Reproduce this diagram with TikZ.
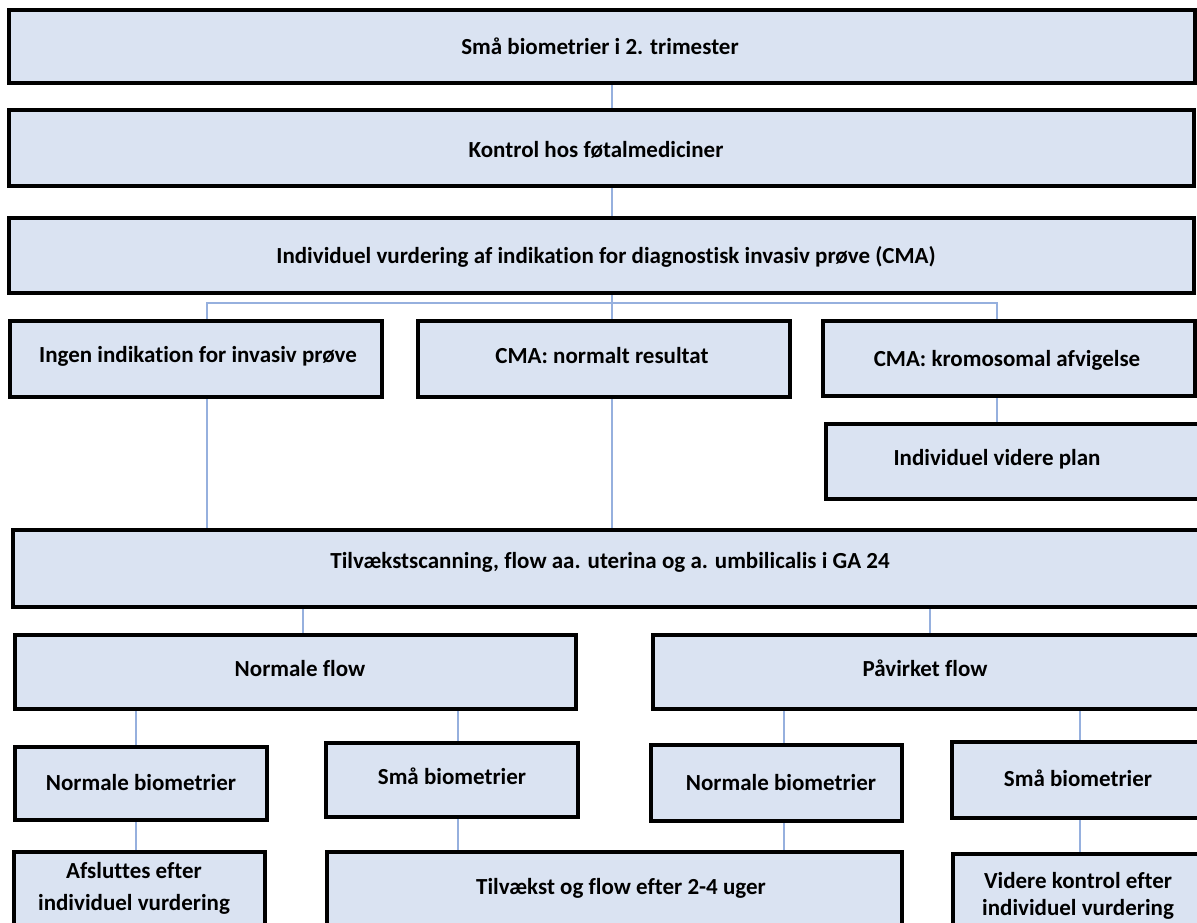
\documentclass[tikz,border=0pt]{standalone}
\usepackage{fontspec}
\setmainfont{Carlito}[Ligatures=NoCommon]
\usetikzlibrary{backgrounds,shadows}
\definecolor{boxfill}{RGB}{218,227,242}
\definecolor{connc}{RGB}{150,176,222}
\tikzset{
  box/.style={draw=black, line width=3.1pt, fill=boxfill, inner sep=0pt,
    drop shadow={shadow xshift=1.2pt, shadow yshift=-1.2pt, opacity=0.35}},
  txt/.style={font=\fontsize{23}{32}\selectfont\bfseries, inner sep=0pt, anchor=base},
  conn/.style={draw=connc, line width=1.3pt}
}
\setlength{\tabcolsep}{0pt}
\newcommand{\bx}[5]{\node[box, minimum width={#4pt-#2pt}, minimum height={#5pt-#3pt}] (#1) at ({(#2+#4)/2},{(#3+#5)/2}) {};}
\begin{document}
\begin{tikzpicture}[x=1pt,y=-1pt]
\useasboundingbox (0,0) rectangle (1197,922);
\clip (0,0) rectangle (1197,922);
\bx{b1}{9}{10}{1195}{83}
\bx{b2}{9}{110}{1194}{186}
\bx{b3}{9}{218}{1194}{293}
\bx{b4}{10}{321}{382}{397}
\bx{b5}{418}{321}{790}{397}
\bx{b6}{823}{321}{1195}{396}
\bx{b7}{826}{424}{1204}{499}
\bx{b8}{13}{530}{1204}{607}
\bx{b9}{15}{635}{576}{709}
\bx{b10}{653}{635}{1204}{709}
\bx{b11}{15}{747}{267}{820}
\bx{b12}{326}{743}{578}{817}
\bx{b13}{651}{745}{902}{821}
\bx{b14}{952}{742}{1204}{818}
\bx{b15}{14}{852}{265}{950}
\bx{b16}{327}{852}{902}{950}
\bx{b17}{953}{854}{1204}{950}

\node[txt] (t1) at (600,54) {Små biometrier i 2. trimester};
\node[txt] (t2) at (596,157) {Kontrol hos føtalmediciner};
\node[txt] (t3) at (606,263) {Individuel vurdering af indikation for diagnostisk invasiv prøve (CMA)};
\node[txt] (t4) at (198,362) {Ingen indikation for invasiv prøve};
\node[txt] (t5) at (602,363) {CMA: normalt resultat};
\node[txt] (t6) at (1007,366) {CMA: kromosomal afvigelse};
\node[txt] (t7) at (997,465) {Individuel videre plan};
\node[txt] (t8) at (610,568) {Tilvækstscanning, flow aa. uterina og a. umbilicalis i GA 24};
\node[txt] (t9) at (300,676) {Normale flow};
\node[txt] (t10) at (925,676) {Påvirket flow};
\node[txt] (t11) at (141,790) {Normale biometrier};
\node[txt] (t12) at (452,784) {Små biometrier};
\node[txt] (t13) at (781,790) {Normale biometrier};
\node[txt] (t14) at (1078,786) {Små biometrier};
\node[txt] (t15) at (134,878) {\begin{tabular}[t]{c}Afsluttes efter\\individuel vurdering\end{tabular}};
\node[txt] (t16) at (621,894) {Tilvækst og flow efter 2-4 uger};
\node[txt, font=\fontsize{23}{27}\selectfont\bfseries] (t17) at (1078,888) {\begin{tabular}[t]{c}Videre kontrol efter\\individuel vurdering\end{tabular}};

\coordinate (x612) at (612,0);
\coordinate (x207) at (207,0);
\coordinate (x997) at (997,0);
\coordinate (x303) at (303,0);
\coordinate (x930) at (930,0);
\coordinate (x136) at (136,0);
\coordinate (x458) at (458,0);
\coordinate (x784) at (784,0);
\coordinate (x1080) at (1080,0);
\coordinate (hy) at (0,303);
\begin{scope}[on background layer]
\draw[conn] (b1.south -| x612) -- (b2.north -| x612);
\draw[conn] (b2.south -| x612) -- (b3.north -| x612);
\draw[conn] (b3.south -| x612) -- (x612 |- hy);
\draw[conn] (b4.north -| x207) -- (x207 |- hy) -- (x997 |- hy) -- (b6.north -| x997);
\draw[conn] (x612 |- hy) -- (b5.north -| x612);
\draw[conn] (b6.south -| x997) -- (b7.north -| x997);
\draw[conn] (b4.south -| x207) -- (b8.north -| x207);
\draw[conn] (b5.south -| x612) -- (b8.north -| x612);
\draw[conn] (b8.south -| x303) -- (b9.north -| x303);
\draw[conn] (b8.south -| x930) -- (b10.north -| x930);
\draw[conn] (b9.south -| x136) -- (b11.north -| x136);
\draw[conn] (b9.south -| x458) -- (b12.north -| x458);
\draw[conn] (b10.south -| x784) -- (b13.north -| x784);
\draw[conn] (b10.south -| x1080) -- (b14.north -| x1080);
\draw[conn] (b11.south -| x136) -- (b15.north -| x136);
\draw[conn] (b12.south -| x458) -- (b16.north -| x458);
\draw[conn] (b13.south -| x784) -- (b16.north -| x784);
\draw[conn] (b14.south -| x1080) -- (b17.north -| x1080);
\end{scope}
\end{tikzpicture}
\end{document}
